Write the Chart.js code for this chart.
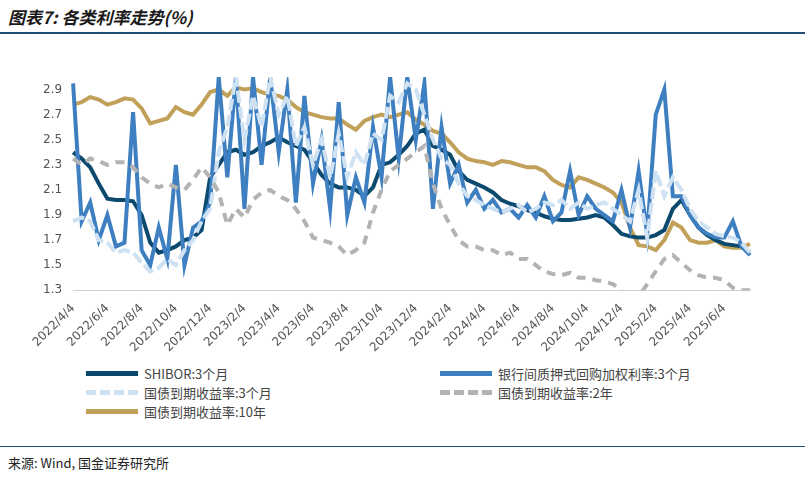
<!DOCTYPE html>
<html><head><meta charset="utf-8">
<script src="https://cdn.jsdelivr.net/npm/chart.js@4"></script>
<style>
body{margin:0;width:805px;height:478px;background:#fff;font-family:"Noto Sans CJK SC",sans-serif;position:relative;overflow:hidden}
#title{position:absolute;left:8px;top:4px;font-size:17px;font-weight:bold;font-style:italic;color:#1a1a1a}
#tl{position:absolute;left:0;top:32px;width:805px;height:2px;background:#1f4e79}
#bl{position:absolute;left:0;top:446px;width:805px;height:1px;background:#1f4e79}
#src{position:absolute;left:8px;top:453px;font-size:13px;color:#222}
#wrap{position:absolute;left:0;top:40px;width:805px;height:318px}
.lg{position:absolute;font-size:13px;color:#444;display:flex;align-items:center}
.sw{width:52px;height:0;margin-right:6px;border-top:5px solid}
</style></head><body>
<div id="title">图表7: 各类利率走势(%)</div><div id="tl"></div>
<div id="wrap"><canvas id="c"></canvas></div>
<div class="lg" style="left:86px;top:364px"><span class="sw" style="border-color:#0b4a6e"></span>SHIBOR:3个月</div>
<div class="lg" style="left:440px;top:364px"><span class="sw" style="border-color:#3d7fc0"></span>银行间质押式回购加权利率:3个月</div>
<div class="lg" style="left:86px;top:383px"><span class="sw" style="border-top:5px dashed #cfe2f3"></span>国债到期收益率:3个月</div>
<div class="lg" style="left:440px;top:383px"><span class="sw" style="border-top:5px dashed #b3b3b3"></span>国债到期收益率:2年</div>
<div class="lg" style="left:86px;top:402px"><span class="sw" style="border-color:#c1a05a"></span>国债到期收益率:10年</div>
<div id="bl"></div><div id="src">来源: Wind, 国金证券研究所</div>
<script>
const startYear=2022, startMonth=4, nPoints=80;
const yTicks=[1.3,1.5,1.7,1.9,2.1,2.3,2.5,2.7,2.9];
const shibor3m=[2.40,2.35,2.28,2.15,2.03,2.02,2.02,2.01,1.90,1.68,1.60,1.62,1.65,1.70,1.72,1.78,2.20,2.30,2.40,2.42,2.38,2.40,2.45,2.48,2.52,2.48,2.45,2.42,2.32,2.22,2.15,2.12,2.12,2.10,2.05,2.12,2.30,2.32,2.38,2.45,2.55,2.58,2.45,2.42,2.38,2.25,2.18,2.15,2.12,2.08,2.02,1.99,1.97,1.94,1.92,1.89,1.87,1.86,1.86,1.87,1.88,1.90,1.88,1.82,1.75,1.73,1.72,1.72,1.74,1.78,1.95,2.02,1.90,1.80,1.74,1.70,1.67,1.66,1.65,1.60];
const repo3m=[2.95,1.85,2.0,1.7,1.9,1.65,1.68,2.72,1.62,1.50,1.80,1.55,2.30,1.50,1.80,1.85,2.0,3.0,2.2,3.0,1.95,3.0,2.3,3.0,2.4,2.9,2.0,2.85,2.15,2.5,1.95,2.8,1.90,2.2,2.0,2.6,2.2,3.0,2.35,3.0,2.5,2.95,1.95,2.6,2.15,2.3,2.0,2.1,1.95,2.02,1.92,1.95,1.88,1.98,1.88,2.05,1.85,1.92,2.25,1.90,2.05,1.95,1.90,1.85,2.10,1.80,2.25,1.75,2.7,2.9,2.05,2.05,1.90,1.80,1.75,1.72,1.72,1.85,1.65,1.58];
const gov3m=[1.85,1.88,1.85,1.70,1.68,1.60,1.62,1.60,1.52,1.45,1.48,1.55,1.50,1.62,1.70,1.85,1.95,2.4,2.6,3.0,2.5,2.85,2.6,3.0,2.7,2.85,2.45,2.6,2.3,2.5,2.2,2.55,2.2,2.4,2.3,2.55,2.5,2.85,2.8,2.95,2.9,2.7,2.5,2.35,2.3,2.15,2.05,2.02,1.98,1.95,1.92,1.95,1.98,1.92,1.95,2.0,1.98,2.02,1.95,2.0,1.95,1.98,2.0,1.95,1.9,1.85,2.1,1.72,2.25,2.05,2.2,2.1,1.95,1.85,1.80,1.75,1.73,1.72,1.68,1.60];
const gov2y=[2.35,2.30,2.35,2.33,2.30,2.32,2.32,2.28,2.20,2.15,2.12,2.15,2.12,2.10,2.18,2.28,2.20,2.08,1.82,1.95,1.88,2.02,2.08,2.10,2.05,2.02,1.95,1.85,1.72,1.70,1.68,1.65,1.58,1.62,1.68,1.92,2.10,2.25,2.30,2.35,2.40,2.45,2.15,1.95,1.82,1.70,1.65,1.65,1.62,1.62,1.58,1.60,1.55,1.55,1.50,1.45,1.43,1.42,1.44,1.40,1.40,1.38,1.37,1.35,1.30,1.20,1.25,1.35,1.45,1.55,1.58,1.52,1.46,1.42,1.40,1.40,1.38,1.32,1.30,1.30];
const gov10y=[2.78,2.80,2.84,2.82,2.78,2.80,2.83,2.82,2.75,2.63,2.65,2.67,2.76,2.72,2.70,2.78,2.88,2.90,2.85,2.92,2.90,2.91,2.88,2.86,2.85,2.82,2.76,2.72,2.70,2.68,2.67,2.67,2.62,2.58,2.65,2.68,2.70,2.68,2.70,2.72,2.66,2.62,2.57,2.55,2.48,2.40,2.35,2.33,2.32,2.30,2.33,2.32,2.30,2.28,2.28,2.25,2.18,2.14,2.12,2.20,2.18,2.15,2.12,2.08,2.00,1.80,1.66,1.65,1.62,1.70,1.84,1.80,1.70,1.68,1.68,1.70,1.65,1.64,1.64,1.67];
const labels=[];
for(let i=0;i<nPoints;i++){const m0=startMonth-1+Math.floor(i/2);const y=startYear+Math.floor(m0/12);const m=m0%12+1;labels.push(y+'/'+m+'/'+(i%2?19:4));}
const isTick=l=>{const p=l.split('/');return p[2]==='4'&&(+p[1])%2===0;};
const ds=(d,c,w,dash)=>({data:d,borderColor:c,borderWidth:w,borderDash:dash||[],pointRadius:0,tension:0,fill:false});
new Chart(document.getElementById('c'),{type:'line',
data:{labels,datasets:[ds(gov2y,'#b3b3b3',4,[9,7]),ds(gov3m,'#cfe2f3',4,[12,4]),ds(repo3m,'#3d7fc0',4),ds(shibor3m,'#0b4a6e',4),ds(gov10y,'#c1a05a',4)]},
options:{responsive:true,maintainAspectRatio:false,animation:false,layout:{padding:{left:40,right:55,top:37}},
plugins:{legend:{display:false},tooltip:{enabled:false}},
scales:{x:{offset:false,grid:{display:false},border:{color:'#d0d0d0'},
ticks:{autoSkip:false,maxRotation:45,minRotation:45,color:'#555',font:{size:12,family:'DejaVu Sans'},
callback:function(v){return labels[v];}},
afterBuildTicks:a=>{a.ticks=a.ticks.filter(t=>isTick(labels[t.value]));}},
y:{min:1.3,max:3.0,grid:{display:false},border:{display:false},afterBuildTicks:a=>{a.ticks=yTicks.map(v=>({value:v}));},
ticks:{color:'#555',font:{size:12,family:'DejaVu Sans'},callback:v=>v.toFixed(1)}}}}});
</script></body></html>
